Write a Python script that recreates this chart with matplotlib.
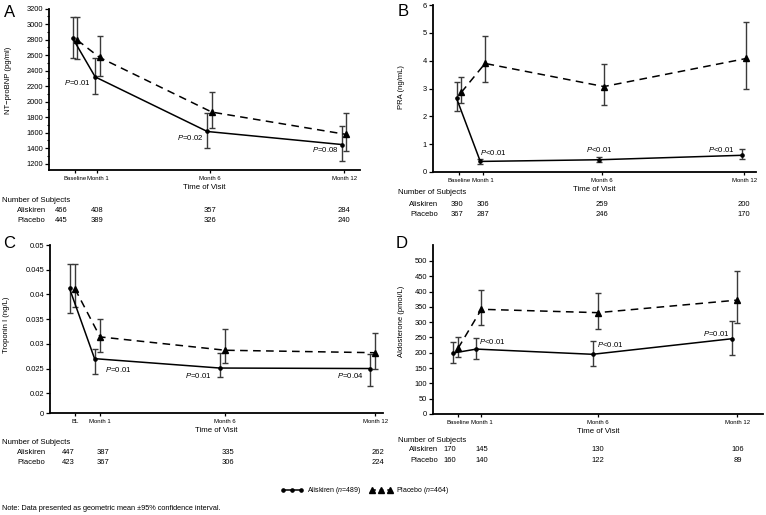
import numpy as np
import matplotlib
matplotlib.use("Agg")
import matplotlib.pyplot as plt
from matplotlib.lines import Line2D
from matplotlib.transforms import blended_transform_factory
from matplotlib.ticker import MultipleLocator, FixedLocator, FixedFormatter

plt.rcParams['font.family'] = ['Liberation Sans', 'DejaVu Sans']
plt.rcParams['mathtext.fontset'] = 'custom'
plt.rcParams['mathtext.rm'] = 'Liberation Sans'
plt.rcParams['mathtext.it'] = 'Liberation Sans:italic'

# ---------------- data ----------------
visits = [0, 1, 6, 12]
xlabels_std = ["Baseline", "Month 1", "Month 6", "Month 12"]
xlabels_c = ["BL", "Month 1", "Month 6", "Month 12"]

# A: NT-proBNP (pg/ml)
ntpro_alis = [2815, 2319, 1616, 1448]
ntpro_alis_lo = [2565, 2099, 1409, 1241]
ntpro_alis_hi = [3086, 2565, 1849, 1690]
ntpro_plac = [2793, 2569, 1866, 1578]
ntpro_plac_lo = [2547, 2336, 1655, 1366]
ntpro_plac_hi = [3086, 2849, 2125, 1853]
ntpro_p = ["$P$=0.01", "$P$=0.02", "$P$=0.08"]
subj_A_alis = [466, 408, 357, 284]
subj_A_plac = [445, 389, 326, 240]

# B: PRA (ng/mL)
pra_alis = [2.65, 0.38, 0.44, 0.60]
pra_alis_lo = [2.20, 0.30, 0.35, 0.47]
pra_alis_hi = [3.23, 0.48, 0.54, 0.81]
pra_plac = [2.86, 3.90, 3.07, 4.08]
pra_plac_lo = [2.47, 3.25, 2.41, 3.00]
pra_plac_hi = [3.42, 4.87, 3.88, 5.39]
pra_p = ["$P$<0.01", "$P$<0.01", "$P$<0.01"]
subj_B_alis = [390, 306, 259, 200]
subj_B_plac = [367, 287, 246, 170]

# C: Troponin I (ng/L)
trop_alis = [0.0412, 0.0270, 0.0251, 0.0250]
trop_alis_lo = [0.0362, 0.0239, 0.0232, 0.0215]
trop_alis_hi = [0.0462, 0.0290, 0.0281, 0.0280]
trop_plac = [0.0411, 0.0314, 0.0287, 0.0282]
trop_plac_lo = [0.0375, 0.0283, 0.0261, 0.0250]
trop_plac_hi = [0.0462, 0.0350, 0.0330, 0.0322]
trop_p = ["$P$=0.01", "$P$=0.01", "$P$=0.04"]
subj_C_alis = [447, 387, 335, 262]
subj_C_plac = [423, 367, 306, 224]

# D: Aldosterone (pmol/L)
aldo_alis = [199, 212, 195, 246]
aldo_alis_lo = [166, 179, 157, 194]
aldo_alis_hi = [235, 248, 238, 304]
aldo_plac = [215, 342, 331, 372]
aldo_plac_lo = [186, 290, 277, 296]
aldo_plac_hi = [251, 404, 394, 467]
aldo_p = ["$P$<0.01", "$P$<0.01", "$P$=0.01"]
subj_D_alis = [170, 145, 130, 106]
subj_D_plac = [160, 140, 122, 89]

# ---------------- figure ----------------
W, H = 766, 515
fig = plt.figure(figsize=(W / 100, H / 100), dpi=100)


def fx(px):
    return px / W


def fy(py):
    return 1 - py / H


def ftext(px, py, s, **kw):
    fig.text(fx(px), fy(py), s, **kw)


def make_ax(left, top, right, bottom):
    return fig.add_axes([fx(left), fy(bottom), fx(right - left), (bottom - top) / H])


SPW = 1.3
ECOL = '#3a3a3a'


def style(ax, xlim, ylim, xticklabels):
    for s in ['top', 'right']:
        ax.spines[s].set_visible(False)
    for s in ['left', 'bottom']:
        ax.spines[s].set_linewidth(SPW)
    ax.set_xlim(*xlim)
    ax.set_ylim(*ylim)
    ax.set_xticks(visits)
    ax.set_xticklabels(xticklabels, fontsize=4.3)
    ax.tick_params(axis='x', length=2.5, width=0.9, pad=1.5)
    ax.tick_params(axis='y', which='major', length=2.8, width=0.9, pad=1.5, labelsize=5.4)
    ax.tick_params(axis='y', which='minor', length=1.6, width=0.8)


def draw_series(ax, x, y, lo, hi, kind):
    x = np.asarray(x, float)
    y = np.asarray(y, float)
    yerr = [y - np.asarray(lo), np.asarray(hi) - y]
    ax.errorbar(x, y, yerr=yerr, fmt='none', ecolor=ECOL, elinewidth=1.0,
                capsize=2.3, capthick=1.0, zorder=3)
    if kind == 'alis':
        ax.plot(x, y, color='black', lw=1.1, marker='o', ms=2.3, zorder=4)
    else:
        ax.plot(x, y, color='black', lw=1.1, ls=(0, (5, 3.5)), marker='^', ms=3.8, zorder=4)


def panel(ax, alis, alis_lo, alis_hi, plac, plac_lo, plac_hi, off_a, off_p):
    draw_series(ax, np.array(visits) + off_a, alis, alis_lo, alis_hi, 'alis')
    draw_series(ax, np.array(visits) + off_p, plac, plac_lo, plac_hi, 'plac')


def subjects(ax, alis_counts, plac_counts, xs, y_a, y_p):
    tr = blended_transform_factory(ax.transData, fig.transFigure)
    for xv, a, p in zip(xs, alis_counts, plac_counts):
        ax.text(xv, fy(y_a), str(a), transform=tr, ha='center', va='center', fontsize=5.5)
        ax.text(xv, fy(y_p), str(p), transform=tr, ha='center', va='center', fontsize=5.5)


# ---- Panel A ----
axA = make_ax(49, 8.5, 360, 170)
panel(axA, ntpro_alis, ntpro_alis_lo, ntpro_alis_hi,
      ntpro_plac, ntpro_plac_lo, ntpro_plac_hi, -0.1, 0.1)
style(axA, (-1.16, 12.71), (1120, 3200), xlabels_std)
axA.yaxis.set_major_locator(MultipleLocator(200))
axA.yaxis.set_minor_locator(MultipleLocator(100))
axA.set_ylabel("NT\u2212proBNP (pg/ml)", fontsize=5.5)
axA.yaxis.set_label_coords(-0.119, 0.557)
axA.set_xlabel("Time of Visit", fontsize=5.6, labelpad=2.5)

# ---- Panel B ----
axB = make_ax(433, 5, 756, 172)
panel(axB, pra_alis, pra_alis_lo, pra_alis_hi,
      pra_plac, pra_plac_lo, pra_plac_hi, -0.1, 0.1)
style(axB, (-1.09, 12.5), (0, 6), xlabels_std)
axB.yaxis.set_major_locator(MultipleLocator(1))
axB.set_ylabel("PRA (ng/mL)", fontsize=5.5)
axB.yaxis.set_label_coords(-0.088, 0.51)
axB.set_xlabel("Time of Visit", fontsize=5.6, labelpad=2.5)

# ---- Panel C ----
axC = make_ax(50, 245, 383, 413)


def c_fwd(y):
    y = np.asarray(y, float)
    return np.where(y >= 0.02, y, 0.02 - (0.02 - y) * 0.2)


def c_inv(y):
    y = np.asarray(y, float)
    return np.where(y >= 0.02, y, 0.02 - (0.02 - y) / 0.2)


axC.set_yscale('function', functions=(c_fwd, c_inv))
panel(axC, trop_alis, trop_alis_lo, trop_alis_hi,
      trop_plac, trop_plac_lo, trop_plac_hi, -0.22, 0.0)
style(axC, (-1.0, 12.3), (0, 0.05), xlabels_c)
c_ticks = [0, 0.02, 0.025, 0.03, 0.035, 0.04, 0.045, 0.05]
axC.yaxis.set_major_locator(FixedLocator(c_ticks))
axC.yaxis.set_major_formatter(FixedFormatter([f"{v:g}" for v in c_ticks]))
axC.yaxis.set_minor_locator(FixedLocator([]))
axC.set_ylabel("Troponin I (ng/L)", fontsize=5.5)
axC.yaxis.set_label_coords(-0.12, 0.524)
axC.set_xlabel("Time of Visit", fontsize=5.6, labelpad=2.5)

# ---- Panel D ----
axD = make_ax(433, 245, 763, 414)
panel(axD, aldo_alis, aldo_alis_lo, aldo_alis_hi,
      aldo_plac, aldo_plac_lo, aldo_plac_hi, -0.22, 0.0)
style(axD, (-1.08, 13.1), (0, 552), xlabels_std)
axD.yaxis.set_major_locator(FixedLocator(np.arange(0, 501, 50)))
axD.set_ylabel("Aldosterone (pmol/L)", fontsize=5.5)
axD.yaxis.set_label_coords(-0.086, 0.546)
axD.set_xlabel("Time of Visit", fontsize=5.6, labelpad=2.5)

# ---- panel letters ----
for lx, ly, s in [(10, 12.5, "A"), (403.5, 12, "B"), (9, 244, "C"), (402, 244, "D")]:
    ftext(lx, ly, s, fontsize=12, ha='center', va='center')

# ---- P-value annotations (figure pixel positions) ----
pA = [(77.5, 82.7), (190.5, 137.3), (324.8, 150)]
pB = [(493, 152.3), (598.8, 150), (721.7, 149)]
pC = [(118, 369), (198, 376), (349.8, 376)]
pD = [(492.5, 341.7), (610, 344.3), (716, 333.3)]
for pos, labs in [(pA, ntpro_p), (pB, pra_p), (pC, trop_p), (pD, aldo_p)]:
    for (px, py), s in zip(pos, labs):
        ftext(px, py, s, fontsize=5.6, ha='center', va='center')

# ---- Number of subjects tables ----
# A
ftext(2, 200.3, "Number of Subjects", fontsize=5.6, ha='left', va='center')
ftext(31.5, 210.3, "Aliskiren", fontsize=5.5, ha='center', va='center')
ftext(31.5, 220, "Placebo", fontsize=5.5, ha='center', va='center')
subjects(axA, subj_A_alis, subj_A_plac, [-0.62, 1, 6, 12], 210.3, 220)
# B
ftext(398, 192.5, "Number of Subjects", fontsize=5.6, ha='left', va='center')
ftext(424, 204, "Aliskiren", fontsize=5.5, ha='center', va='center')
ftext(424, 214.3, "Placebo", fontsize=5.5, ha='center', va='center')
subjects(axB, subj_B_alis, subj_B_plac, [-0.08, 1, 6, 12], 204, 214.3)
# C
ftext(2, 442, "Number of Subjects", fontsize=5.6, ha='left', va='center')
ftext(31.5, 453, "Aliskiren", fontsize=5.5, ha='center', va='center')
ftext(31.5, 463, "Placebo", fontsize=5.5, ha='center', va='center')
subjects(axC, subj_C_alis, subj_C_plac, [-0.28, 1.1, 6.1, 12.1], 453, 463)
# D
ftext(398, 440.3, "Number of Subjects", fontsize=5.6, ha='left', va='center')
ftext(424, 449.5, "Aliskiren", fontsize=5.5, ha='center', va='center')
ftext(424, 460.7, "Placebo", fontsize=5.5, ha='center', va='center')
subjects(axD, subj_D_alis, subj_D_plac, [-0.34, 1, 6, 12], 449.5, 460.7)

# ---- legend ----
h_alis = Line2D([], [], color='black', lw=1.1, marker='o', ms=2.3)
h_plac = Line2D([], [], color='black', lw=1.1, ls=(0, (2.5, 2.5)), marker='^', ms=3.8)
fig.legend([h_alis, h_plac], ["Aliskiren ($n$=489)", "Placebo ($n$=464)"],
           loc='center', bbox_to_anchor=(fx(365), fy(490.7)), ncol=2, frameon=False,
           fontsize=5, numpoints=3, handlelength=3.2, handletextpad=0.6, columnspacing=1.2)

# ---- note ----
ftext(2, 508, "Note: Data presented as geometric mean \u00b195% confidence interval.",
      fontsize=5.3, ha='left', va='center')

fig.savefig("out.png", dpi=100)
